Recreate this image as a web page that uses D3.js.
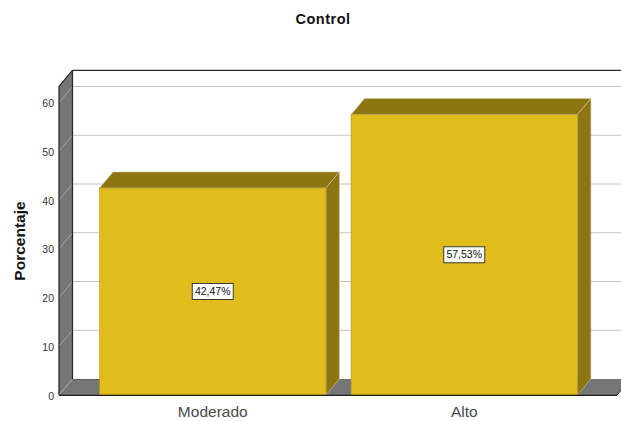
<!DOCTYPE html>
<html>
<head>
<meta charset="utf-8">
<script src="https://cdn.jsdelivr.net/npm/d3@7"></script>
<style>
  html, body { margin: 0; padding: 0; background: #fff; }
  svg { display: block; }
  text { font-family: "Liberation Sans", Arial, sans-serif; }
</style>
</head>
<body>
<svg id="chart" width="621" height="421"></svg>
<script>
const categories = ["Moderado", "Alto"];
const percentages = [42.47, 57.53];
const valueLabels = ["42,47%", "57,53%"];
const yTicks = [0, 10, 20, 30, 40, 50, 60];
const chartTitle = "Control";
const yTitle = "Porcentaje";

const svg = d3.select("#chart");

// Oblique offset of the back plane relative to the front plane
const depthX = 13.5, depthY = -16;
const frontLeft = 59, frontRight = 617;

const y = d3.scaleLinear().domain([0, 60]).range([395, 102.5]);
const x = d3.scaleBand().domain(categories).range([87, 590])
  .paddingInner(0.1).paddingOuter(0.05);

const wallTop = 63.3;
const poly = pts => pts.map(p => p.join(",")).join(" ");

// Back wall
svg.append("rect")
  .attr("x", frontLeft + depthX).attr("y", y(wallTop) + depthY)
  .attr("width", 621 - frontLeft - depthX)
  .attr("height", y(0) - y(wallTop))
  .attr("fill", "#fff");

// Grey side wall and floor
svg.append("polygon")
  .attr("points", poly([
    [frontLeft, y(0)], [frontLeft, y(wallTop)],
    [frontLeft + depthX, y(wallTop) + depthY], [frontLeft + depthX, y(0) + depthY]
  ]))
  .attr("fill", "#757575");
svg.append("polygon")
  .attr("points", poly([
    [frontLeft, y(0)], [frontLeft + depthX, y(0) + depthY],
    [frontRight + depthX, y(0) + depthY], [frontRight, y(0)]
  ]))
  .attr("fill", "#757575");

// Gridlines wrap from the side wall onto the back wall
const grid = svg.append("g");
yTicks.filter(t => t > 0).forEach(t => {
  grid.append("line")
    .attr("x1", frontLeft + depthX).attr("x2", 621)
    .attr("y1", y(t) + depthY).attr("y2", y(t) + depthY)
    .attr("stroke", "#c4c4c4").attr("stroke-width", 1);
  grid.append("line")
    .attr("x1", frontLeft).attr("x2", frontLeft + depthX)
    .attr("y1", y(t)).attr("y2", y(t) + depthY)
    .attr("stroke", "#a8a8a8").attr("stroke-width", 1);
});
svg.append("line")
  .attr("x1", frontLeft).attr("x2", frontLeft + depthX)
  .attr("y1", y(0)).attr("y2", y(0) + depthY)
  .attr("stroke", "#a8a8a8").attr("stroke-width", 1);

// Frame of the walls
const frame = "#2b2b2b";
svg.append("path")
  .attr("d", `M${frontLeft},${y(0)} L${frontLeft},${y(wallTop)} L${frontLeft + depthX},${y(wallTop) + depthY} L621,${y(wallTop) + depthY}`)
  .attr("fill", "none").attr("stroke", frame).attr("stroke-width", 1.3);
svg.append("line")
  .attr("x1", frontLeft + depthX).attr("x2", frontLeft + depthX)
  .attr("y1", y(wallTop) + depthY).attr("y2", y(0) + depthY)
  .attr("stroke", frame).attr("stroke-width", 1.3);
svg.append("line")
  .attr("x1", frontLeft + depthX).attr("x2", x(categories[0]))
  .attr("y1", y(0) + depthY + 0.5).attr("y2", y(0) + depthY + 0.5)
  .attr("stroke", "#5c5c5c").attr("stroke-width", 1);

// Extruded bars
const bars = svg.append("g").selectAll("g").data(percentages).join("g");
bars.append("polygon")
  .attr("points", (d, i) => {
    const l = x(categories[i]), r = l + x.bandwidth(), t = y(d);
    return poly([[l, t], [l + depthX, t + depthY], [r + depthX, t + depthY], [r, t]]);
  })
  .attr("fill", "#8d7612").attr("stroke", "#cfc9a8").attr("stroke-width", 0.6);
bars.append("polygon")
  .attr("points", (d, i) => {
    const r = x(categories[i]) + x.bandwidth(), t = y(d);
    return poly([[r, t], [r + depthX, t + depthY], [r + depthX, y(0) + depthY], [r, y(0)]]);
  })
  .attr("fill", "#8d7612").attr("stroke", "#cfc9a8").attr("stroke-width", 0.6);
bars.append("rect")
  .attr("x", (d, i) => x(categories[i]))
  .attr("y", d => y(d))
  .attr("width", x.bandwidth())
  .attr("height", d => y(0) - y(d))
  .attr("fill", "#e1bc1d").attr("stroke", "#a89440").attr("stroke-width", 0.6);

// Front baseline
svg.append("line")
  .attr("x1", frontLeft).attr("x2", frontRight)
  .attr("y1", y(0) + 0.3).attr("y2", y(0) + 0.3)
  .attr("stroke", "#1f1f1f").attr("stroke-width", 1.2);
svg.append("line")
  .attr("x1", frontRight).attr("x2", frontRight + depthX)
  .attr("y1", y(0)).attr("y2", y(0) + depthY)
  .attr("stroke", "#1f1f1f").attr("stroke-width", 1);

// Value labels in boxes at the middle of each bar
const labels = svg.append("g").selectAll("g").data(percentages).join("g")
  .attr("transform", (d, i) =>
    `translate(${x(categories[i]) + x.bandwidth() / 2},${y(d / 2)})`);
labels.append("rect")
  .attr("x", -20.5).attr("y", -8).attr("width", 41).attr("height", 16)
  .attr("fill", "#fff").attr("stroke", "#3a3a2a").attr("stroke-width", 1);
labels.append("text")
  .attr("text-anchor", "middle").attr("dy", "0.35em")
  .attr("font-size", 10.5).attr("fill", "#111")
  .text((d, i) => valueLabels[i]);

// Axis labels
const yAxis = d3.axisLeft(y).tickValues(yTicks).tickSize(0).tickPadding(5);
const yG = svg.append("g").attr("transform", `translate(${frontLeft},0.7)`).call(yAxis);
yG.select(".domain").remove();
yG.selectAll("text").attr("font-size", 10.5).attr("fill", "#333")
  .style("font-family", '"Liberation Sans", Arial, sans-serif');

const xAxis = d3.axisBottom(x).tickSize(0).tickPadding(10.5);
const xG = svg.append("g").attr("transform", `translate(0,${y(0)})`).call(xAxis);
xG.select(".domain").remove();
xG.selectAll("text").attr("font-size", 15.5).attr("fill", "#4a4a4a")
  .style("font-family", '"Liberation Sans", Arial, sans-serif');

// Titles
svg.append("text").attr("x", 323).attr("y", 24)
  .attr("text-anchor", "middle").attr("font-size", 14.5).attr("font-weight", "bold")
  .attr("letter-spacing", 0.5).attr("fill", "#111").text(chartTitle);
svg.append("text")
  .attr("transform", "translate(25,241) rotate(-90)")
  .attr("text-anchor", "middle").attr("font-size", 15.5).attr("font-weight", "bold")
  .attr("fill", "#111").text(yTitle);
</script>
</body>
</html>
